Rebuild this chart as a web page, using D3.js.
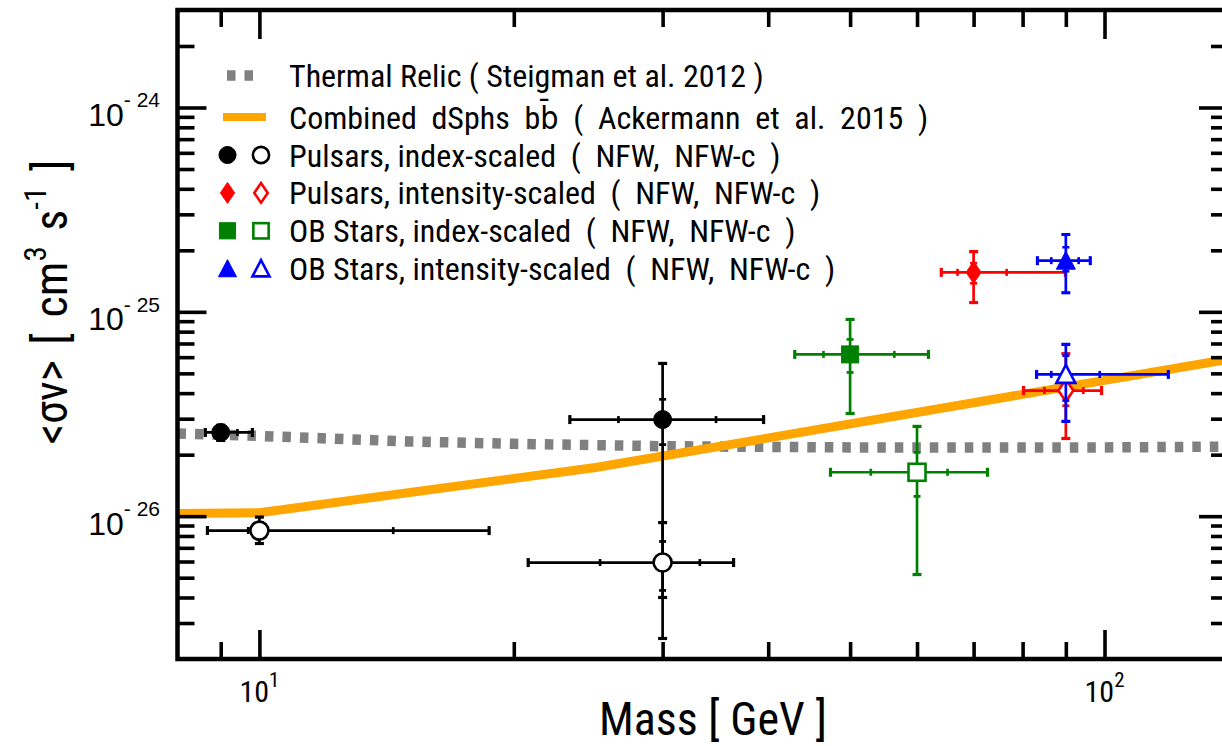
<!DOCTYPE html>
<html>
<head>
<meta charset="utf-8">
<script src="https://cdn.jsdelivr.net/npm/d3@7"></script>
<style>
  html, body { margin: 0; padding: 0; background: #fff; }
  svg { display: block; }
  .narrow { font-family: "Liberation Sans Narrow", "Arial Narrow", "Roboto Condensed", "DejaVu Sans Condensed", sans-serif; font-stretch: condensed; }
  .wide { font-family: "Liberation Sans", Arial, sans-serif; }
</style>
</head>
<body>
<div id="chart"></div>
<script>
// ticks
const xMajor = [10, 100];
const xMinor = [9, 20, 30, 40, 50, 60, 70, 80, 90];
const xTickExp = ["1", "2"];
const yMajor = [1e-26, 1e-25, 1e-24];
const yMinor = [3e-27, 4e-27, 5e-27, 6e-27, 7e-27, 8e-27, 9e-27,
                2e-26, 3e-26, 4e-26, 5e-26, 6e-26, 7e-26, 8e-26, 9e-26,
                2e-25, 3e-25, 4e-25, 5e-25, 6e-25, 7e-25, 8e-25, 9e-25, 2e-24];
const yTickExp = ["- 26", "- 25", "- 24"];

// thermal relic (Steigman et al. 2012)
const relicMass = [8, 10, 15, 20, 30, 50, 100, 140];
const relicSigma = [2.54e-26, 2.47e-26, 2.32e-26, 2.26e-26, 2.2e-26, 2.17e-26, 2.17e-26, 2.19e-26];

// combined dSphs bb limit (Ackermann et al. 2015)
const dsphMass = [8, 10, 25, 100, 140];
const dsphSigma = [1.03e-26, 1.04e-26, 1.73e-26, 4.62e-26, 5.85e-26];

// best-fit points
const seriesNames = ["Pulsars, index-scaled", "Pulsars, intensity-scaled", "OB Stars, index-scaled", "OB Stars, intensity-scaled"];
const profiles = ["NFW", "NFW-c"];
const ptSeries  = [0, 0, 0, 0, 1, 1, 2, 2, 3, 3];
const ptProfile = [0, 1, 0, 1, 0, 1, 0, 1, 0, 1];
const ptMass    = [9, 10, 30, 30, 70, 90, 50, 60, 90, 90];
const ptSigma   = [2.57e-26, 8.5e-27, 2.97e-26, 5.93e-27, 1.56e-25, 4.12e-26, 6.19e-26, 1.64e-26, 1.78e-25, 4.94e-26];
const massInLo  = [8.85, 9.7, 26.6, 25.3, 67.0, 84.9, 46.5, 52.9, 86.5, 86.5];
const massInHi  = [9.42, 14.4, 34.7, 33.2, 76.6, 94.4, 56.4, 65.2, 93.2, 98.7];
const massOutLo = [8.63, 8.68, 23.3, 20.8, 64.1, 80.2, 43.0, 47.4, 83.3, 83.1];
const massOutHi = [9.81, 18.7, 39.5, 36.4, 89.9, 99.2, 61.9, 72.7, 96.2, 119];
const sigInLo   = [2.5e-26, 8.0e-27, 2.24e-26, 4.33e-27, 1.38e-25, 3.47e-26, 5.05e-26, 1.25e-26, 1.58e-25, 3.68e-26];
const sigInHi   = [2.65e-26, 9.1e-27, 3.73e-26, 7.52e-27, 1.73e-25, 5.04e-26, 7.33e-26, 2.05e-26, 2.07e-25, 6.1e-26];
const sigOutLo  = [2.35e-26, 7.35e-27, 4.0e-27, 2.52e-27, 1.11e-25, 2.4e-26, 3.18e-26, 5.18e-27, 1.24e-25, 2.91e-26];
const sigOutHi  = [2.78e-26, 9.9e-27, 5.59e-26, 9.3e-27, 1.97e-25, 6.24e-26, 9.18e-26, 2.75e-26, 2.39e-25, 6.93e-26];

// styles
const seriesStyle = [
  { color: "#000000", shape: "circle" },
  { color: "#ff0000", shape: "diamond" },
  { color: "#008000", shape: "square" },
  { color: "#0000ff", shape: "triangle" }
];

const W = 1222, H = 746;
const pLeft = 177.5, pRight = 1228, pTop = 10, pBottom = 659;

const svg = d3.select("#chart").append("svg")
  .attr("width", W).attr("height", H);

const x = d3.scaleLog().domain([8, 140]).range([pLeft, pRight]);
const y = d3.scaleLog().domain([2e-27, 3e-24]).range([pBottom, pTop]);

svg.append("defs").append("clipPath").attr("id", "clip")
  .append("rect").attr("x", pLeft).attr("y", pTop)
  .attr("width", pRight - pLeft).attr("height", pBottom - pTop);

const plot = svg.append("g").attr("clip-path", "url(#clip)");

// curves
const line = d3.line().x(d => x(d[0])).y(d => y(d[1]));
plot.append("path")
  .datum(relicMass.map((m, i) => [m, relicSigma[i]]))
  .attr("d", line)
  .attr("fill", "none").attr("stroke", "#808080")
  .attr("stroke-width", 10.5).attr("stroke-dasharray", "8.5,9");
plot.append("path")
  .datum(dsphMass.map((m, i) => [m, dsphSigma[i]]))
  .attr("d", line)
  .attr("fill", "none").attr("stroke", "#ffa500")
  .attr("stroke-width", 9);

function marker(g, shape, cx, cy, color, filled, k = 1) {
  let el;
  if (shape === "circle") {
    el = g.append("circle").attr("cx", cx).attr("cy", cy).attr("r", 9 * k);
  } else if (shape === "diamond") {
    el = g.append("path").attr("d", `M${cx},${cy - 11 * k}L${cx + 7.5 * k},${cy}L${cx},${cy + 11 * k}L${cx - 7.5 * k},${cy}Z`);
  } else if (shape === "square") {
    el = g.append("rect").attr("x", cx - 8.5 * k).attr("y", cy - 8.5 * k)
      .attr("width", 17 * k).attr("height", 17 * k);
  } else {
    el = g.append("path").attr("d", `M${cx},${cy - 9.5 * k}L${cx + 9.5 * k},${cy + 8.5 * k}L${cx - 9.5 * k},${cy + 8.5 * k}Z`);
  }
  if (filled) el.attr("fill", color).attr("stroke", color).attr("stroke-width", 1);
  else el.attr("fill", "#fff").attr("stroke", color).attr("stroke-width", 2.6);
}

// error bars + markers
ptMass.forEach((m, i) => {
  const st = seriesStyle[ptSeries[i]];
  const g = plot.append("g").attr("stroke", st.color).attr("stroke-width", 2.7);
  const cx = x(m), cy = y(ptSigma[i]);
  g.append("line").attr("x1", x(massOutLo[i])).attr("x2", x(massOutHi[i])).attr("y1", cy).attr("y2", cy);
  g.append("line").attr("x1", cx).attr("x2", cx).attr("y1", y(sigOutLo[i])).attr("y2", y(sigOutHi[i]));
  [massOutLo[i], massOutHi[i]].forEach(v => g.append("line")
    .attr("x1", x(v)).attr("x2", x(v)).attr("y1", cy - 4.5).attr("y2", cy + 4.5).attr("stroke-width", 3.2));
  [massInLo[i], massInHi[i]].forEach(v => g.append("line")
    .attr("x1", x(v)).attr("x2", x(v)).attr("y1", cy - 3.5).attr("y2", cy + 3.5).attr("stroke-width", 2.7));
  [sigOutLo[i], sigOutHi[i]].forEach(v => g.append("line")
    .attr("x1", cx - 4.5).attr("x2", cx + 4.5).attr("y1", y(v)).attr("y2", y(v)).attr("stroke-width", 3.2));
  [sigInLo[i], sigInHi[i]].forEach(v => g.append("line")
    .attr("x1", cx - 3.5).attr("x2", cx + 3.5).attr("y1", y(v)).attr("y2", y(v)).attr("stroke-width", 2.7));
  marker(plot, st.shape, cx, cy, st.color, ptProfile[i] === 0);
});

// axes ticks (inward, all four sides)
function ticks(axis, vals, len, tr) {
  const g = svg.append("g").attr("transform", tr)
    .call(axis.tickValues(vals).tickSize(len).tickSizeOuter(0).tickFormat(""));
  g.select(".domain").remove();
  g.selectAll(".tick line").attr("stroke", "#000").attr("stroke-width", 3.6);
}
ticks(d3.axisBottom(x), xMajor, -29, `translate(0,${pBottom})`);
ticks(d3.axisBottom(x), xMinor, -17, `translate(0,${pBottom})`);
ticks(d3.axisTop(x), xMajor, -29, `translate(0,${pTop})`);
ticks(d3.axisTop(x), xMinor, -17, `translate(0,${pTop})`);
ticks(d3.axisLeft(y), yMajor, -29, `translate(${pLeft},0)`);
ticks(d3.axisLeft(y), yMinor, -17, `translate(${pLeft},0)`);
ticks(d3.axisRight(y), yMajor, -29, `translate(${pRight},0)`);
ticks(d3.axisRight(y), yMinor, -17, `translate(${pRight},0)`);

svg.append("rect").attr("x", pLeft).attr("y", pTop)
  .attr("width", pRight - pLeft).attr("height", pBottom - pTop)
  .attr("fill", "none").attr("stroke", "#000").attr("stroke-width", 4.5);

// tick labels
xMajor.forEach((v, i) => {
  const t = svg.append("text").attr("class", "narrow")
    .attr("x", x(v)).attr("y", 702).attr("text-anchor", "middle")
    .attr("font-size", 30).attr("fill", "#000");
  t.append("tspan").text("10");
  t.append("tspan").attr("font-size", 21).attr("dy", -15).text(xTickExp[i]);
});
yMajor.forEach((v, i) => {
  const t = svg.append("text").attr("class", "wide")
    .attr("x", 160).attr("y", y(v) + 18.5).attr("text-anchor", "end")
    .attr("font-size", 32).attr("fill", "#000");
  t.append("tspan").text("10");
  t.append("tspan").attr("font-size", 21).attr("dy", -18.5).text(yTickExp[i]);
});

// axis titles
svg.append("text").attr("class", "narrow")
  .attr("x", 713).attr("y", 735).attr("text-anchor", "middle")
  .attr("font-size", 46).attr("fill", "#000").text("Mass [ GeV ]");

const yl = svg.append("text").attr("class", "narrow")
  .attr("transform", "translate(67,302) rotate(-90)")
  .attr("text-anchor", "middle").attr("font-size", 46).attr("fill", "#000")
  .attr("word-spacing", 5).style("white-space", "pre");
yl.append("tspan").text("<σv> [ cm");
yl.append("tspan").attr("font-size", 31).attr("dy", -21).text("3");
yl.append("tspan").attr("dy", 21).text(" s");
yl.append("tspan").attr("font-size", 31).attr("dy", -21).text("-1");
yl.append("tspan").attr("dy", 21).text(" ]");

// legend
const legendY = i => i === 0 ? 75.5 : 79.2 + i * 37.9;
const legText = [
  "Thermal Relic ( Steigman et al. 2012 )",
  "Combined  dSphs  bb\u0304  (  Ackermann  et  al.  2015  )"
].concat(seriesNames.map(s => `${s}  (  ${profiles.join(",  ")}  )`));
const leg = svg.append("g");
leg.append("line").attr("x1", 227).attr("x2", 254).attr("y1", legendY(0)).attr("y2", legendY(0))
  .attr("stroke", "#808080").attr("stroke-width", 10.5).attr("stroke-dasharray", "8.5,9");
leg.append("line").attr("x1", 223).attr("x2", 266).attr("y1", legendY(1)).attr("y2", legendY(1))
  .attr("stroke", "#ffa500").attr("stroke-width", 8);
seriesStyle.forEach((st, i) => {
  marker(leg, st.shape, 227.5, legendY(i + 2), st.color, true, 0.95);
  marker(leg, st.shape, 261, legendY(i + 2), st.color, false, 0.9);
});
legText.forEach((s, i) => {
  leg.append("text").attr("class", "narrow")
    .attr("x", 289).attr("y", legendY(i)).attr("dy", "0.36em")
    .attr("font-size", 32).attr("fill", "#000")
    .style("white-space", "pre").text(s);
});
</script>
</body>
</html>
